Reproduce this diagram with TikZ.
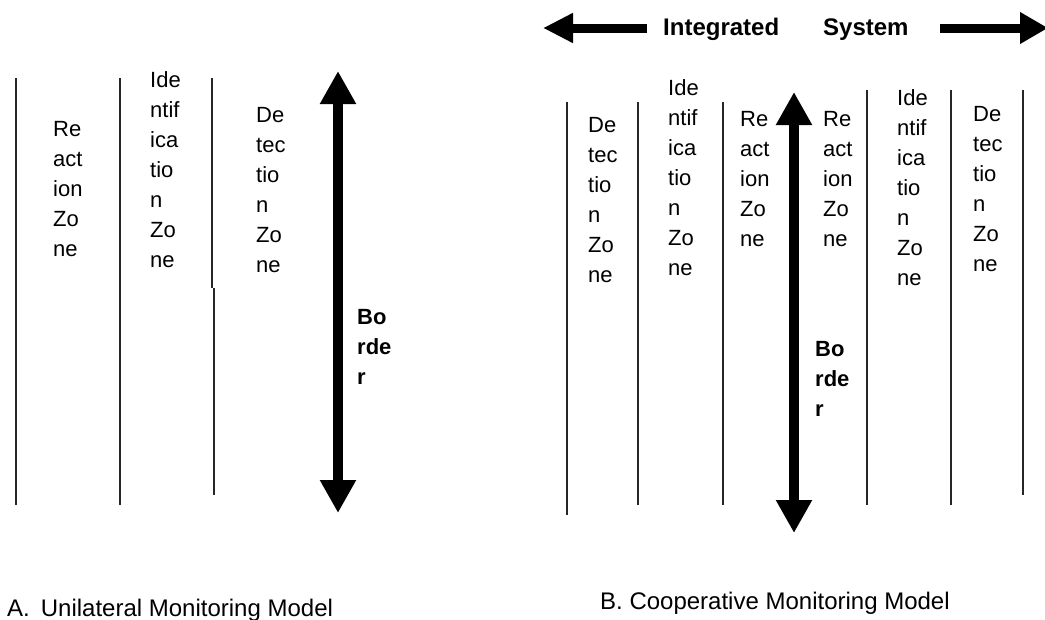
\documentclass[tikz,border=0pt]{standalone}
\usepackage{fontspec}
\setmainfont{Liberation Sans}
\usetikzlibrary{arrows.meta}
\begin{document}
\begin{tikzpicture}[x=1pt,y=-1pt,
  zone/.style={anchor=north west, inner sep=0pt, align=left, font=\fontsize{22}{30}\selectfont},
  bordertxt/.style={anchor=north west, inner sep=0pt, align=left, font=\fontsize{22}{30}\selectfont\bfseries},
  headtxt/.style={anchor=base west, inner sep=0pt, font=\fontsize{24}{28}\selectfont\bfseries},
  captxt/.style={anchor=base west, inner sep=0pt, font=\fontsize{24}{28}\selectfont},
  sepline/.style={line width=1.3pt, draw=black!85},
  bigarrow/.style={line width=10pt, {Triangle[length=33pt,width=34pt]}-{Triangle[length=33pt,width=34pt]}},
  headarrowL/.style={line width=9pt, -{Triangle[length=30pt,width=28pt]}},
  headarrowR/.style={line width=9pt, -{Triangle[length=28pt,width=30pt]}}]
\useasboundingbox (0,0) rectangle (1045,619);
\clip (0,0) rectangle (1045,619);

% ---------- Panel A ----------
\draw[sepline] (16,78) -- (16,505);
\draw[sepline] (120,78) -- (120,505);
\draw[sepline] (212,78) -- (212,288);
\draw[sepline] (214,288) -- (214,495);

\node[zone] (aRe) at (53,121) {Re\\act\\ion\\Zo\\ne};
\node[zone] (aId) at (150,71) {Ide\\ntif\\ica\\tio\\n\\Zo\\ne};
\node[zone] (aDe) at (256,107) {De\\tec\\tio\\n\\Zo\\ne};

\coordinate (aTop) at (338,71);
\coordinate (aBot) at (338,513);
\draw[bigarrow] (aTop) -- (aBot);
\node[bordertxt] (aBorder) at (357,309) {Bo\\rde\\r};

\node[captxt] (capA) at (7,616) {A.\hspace{11pt}Unilateral Monitoring Model};

% ---------- Panel B ----------
\coordinate (hL1) at (647,28);
\coordinate (hL2) at (543,28);
\coordinate (hR1) at (940,28);
\coordinate (hR2) at (1048,28);
\draw[headarrowL] (hL1) -- (hL2);
\draw[headarrowR] (hR1) -- (hR2);
\node[headtxt] (hInt) at (663,35) {Integrated};
\node[headtxt] (hSys) at (823,35) {System};

\draw[sepline] (567,102) -- (567,515);
\draw[sepline] (638,102) -- (638,505);
\draw[sepline] (723,102) -- (723,505);
\draw[sepline] (867,90) -- (867,505);
\draw[sepline] (951,90) -- (951,505);
\draw[sepline] (1023,90) -- (1023,495);

\node[zone] (bDe1) at (588,117) {De\\tec\\tio\\n\\Zo\\ne};
\node[zone] (bId1) at (668,79) {Ide\\ntif\\ica\\tio\\n\\Zo\\ne};
\node[zone] (bRe1) at (740,111) {Re\\act\\ion\\Zo\\ne};
\node[zone] (bRe2) at (823,111) {Re\\act\\ion\\Zo\\ne};
\node[zone] (bId2) at (897,89) {Ide\\ntif\\ica\\tio\\n\\Zo\\ne};
\node[zone] (bDe2) at (973,106) {De\\tec\\tio\\n\\Zo\\ne};

\coordinate (bTop) at (794,92);
\coordinate (bBot) at (794,533);
\draw[bigarrow] (bTop) -- (bBot);
\node[bordertxt] (bBorder) at (815,341) {Bo\\rde\\r};

\node[captxt] (capB) at (600,609) {B. Cooperative Monitoring Model};
\end{tikzpicture}
\end{document}
